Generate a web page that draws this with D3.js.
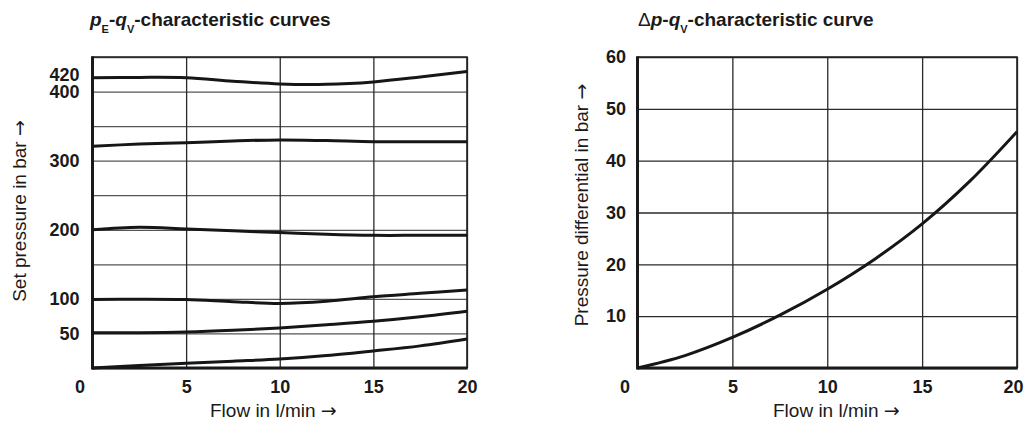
<!DOCTYPE html>
<html>
<head>
<meta charset="utf-8">
<script src="https://cdn.jsdelivr.net/npm/d3@7"></script>
<style>
  body { margin: 0; background: #fff; }
  svg { display: block; }
  text { font-family: "Liberation Sans", Arial, Helvetica, sans-serif; fill: #1a1a1a; }
  .tick-label { font-family: "Liberation Sans Narrow", "Arial Narrow", "Liberation Sans", sans-serif; font-weight: bold; font-size: 18px; }
  .axis-title { font-size: 19px; }
  .arrow { font-family: "DejaVu Sans", sans-serif; }
  .chart-title { font-size: 19px; font-weight: bold; }
</style>
</head>
<body>
<svg width="1027" height="423"></svg>
<script>
// flow in l/min, sampled along the curves
const flow = [0, 2.5, 5, 7.5, 10, 12.5, 15, 17.5, 20];

// pE-qV curves (set pressure in bar)
const pE420 = [420, 420.5, 420, 415, 411, 410.5, 414, 421, 429];
const pE320 = [321, 324, 326, 328.5, 330, 329, 327.5, 327.5, 327.5];
const pE200 = [200, 203.5, 201, 198.5, 196, 193.5, 192, 192, 192];
const pE100 = [99, 99.5, 99, 96, 93.5, 96.5, 103, 108, 113];
const pE50  = [51, 51, 52, 54.5, 58, 62.5, 67.5, 74, 82];
const pE0   = [0, 3.5, 6.7, 9.8, 13, 18, 24.6, 32, 42];

// delta p - qV curve (pressure differential in bar)
const dp = [0, 2.4, 5.9, 10.2, 15.2, 21.0, 27.8, 36, 45.6];

const xTicks = [0, 5, 10, 15, 20];
const leftGrid = [0, 50, 100, 150, 200, 250, 300, 350, 400, 450];
const leftLabels = [50, 100, 200, 300, 400, 420];
const rightGrid = [0, 10, 20, 30, 40, 50, 60];
const rightLabels = [10, 20, 30, 40, 50, 60];

const svg = d3.select('svg');
const plotTop = 57, plotBottom = 368;

function titleWithArrow(sel, label) {
    sel.append('tspan').text(label + ' ');
    sel.append('tspan').attr('class', 'arrow').text('\u2192');
}

function panel(cfg) {
    const x = d3.scaleLinear().domain([0, 20]).range([cfg.left, cfg.right]);
    const y = d3.scaleLinear().domain([0, cfg.ymax]).range([plotBottom, plotTop]);
    const g = svg.append('g');

    // horizontal grid
    g.append('g')
        .attr('transform', `translate(${cfg.left},0)`)
        .call(d3.axisLeft(y).tickValues(cfg.grid).tickSize(-(cfg.right - cfg.left)).tickFormat(''))
        .call(s => s.select('.domain').remove())
        .call(s => s.selectAll('.tick line').attr('stroke', cfg.hColor).attr('stroke-width', 1.3));

    // vertical grid
    g.append('g')
        .attr('transform', `translate(0,${plotBottom})`)
        .call(d3.axisBottom(x).tickValues(xTicks).tickSize(-(plotBottom - plotTop)).tickFormat(''))
        .call(s => s.select('.domain').remove())
        .call(s => s.selectAll('.tick line').attr('stroke', '#2a2a2a').attr('stroke-width', 1.3));

    // frame
    g.append('path')
        .attr('d', `M${cfg.left},${plotTop}H${cfg.right}V${plotBottom}`)
        .attr('fill', 'none').attr('stroke', '#222').attr('stroke-width', 1.6);
    g.append('line')
        .attr('x1', cfg.left).attr('x2', cfg.right + 0.8).attr('y1', plotBottom).attr('y2', plotBottom)
        .attr('stroke', '#1a1a1a').attr('stroke-width', 2.8);
    g.append('line')
        .attr('x1', cfg.left).attr('x2', cfg.left).attr('y1', plotTop - 0.8).attr('y2', plotBottom + 1.4)
        .attr('stroke', '#1a1a1a').attr('stroke-width', 3);

    // y tick labels
    g.append('g')
        .attr('transform', `translate(${cfg.left},0)`)
        .call(d3.axisLeft(y).tickValues(cfg.labels).tickSize(0).tickPadding(cfg.yPad))
        .call(s => s.select('.domain').remove())
        .call(s => s.selectAll('.tick text').attr('class', 'tick-label').attr('fill', '#1a1a1a').attr('font-size', null).attr('font-family', null))
        .call(s => s.selectAll('.tick text').filter(d => d === 420).attr('dy', '0.15em'));

    // x tick labels
    g.append('g')
        .attr('transform', `translate(0,${plotBottom})`)
        .call(d3.axisBottom(x).tickValues(xTicks).tickSize(0).tickPadding(12))
        .call(s => s.select('.domain').remove())
        .call(s => s.selectAll('.tick text').attr('class', 'tick-label').attr('fill', '#1a1a1a').attr('font-size', null).attr('font-family', null))
        .call(s => s.selectAll('.tick text').filter(d => d === 0).attr('x', -13))
        .call(s => s.selectAll('.tick text').filter(d => d === 20).attr('x', cfg.lastDx));

    // curves
    const line = d3.line()
        .curve(d3.curveCatmullRom.alpha(0.5))
        .x((d, i) => x(flow[i]))
        .y(d => y(d));
    g.selectAll('.curve')
        .data(cfg.series)
        .enter().append('path')
        .attr('class', 'curve')
        .attr('d', d => line(d))
        .attr('fill', 'none')
        .attr('stroke', '#161616')
        .attr('stroke-width', 3);

    // axis titles
    g.append('text')
        .attr('class', 'axis-title')
        .attr('x', cfg.xTitleX).attr('y', 417)
        .call(titleWithArrow, 'Flow in l/min');
    g.append('text')
        .attr('class', 'axis-title')
        .attr('text-anchor', 'middle')
        .attr('transform', `translate(${cfg.yTitleX},${cfg.yTitleY}) rotate(-90)`)
        .call(titleWithArrow, cfg.yTitle);

    // chart title
    const t = g.append('text')
        .attr('class', 'chart-title')
        .attr('x', cfg.titleX).attr('y', 26);
    cfg.title.forEach(part => {
        const ts = t.append('tspan').text(part.text);
        if (part.italic) ts.attr('font-style', 'italic');
        if (part.normal) ts.attr('font-weight', 'normal');
        if (part.sub) ts.attr('font-size', 11).attr('dy', 7);
        if (part.up) ts.attr('dy', -7);
    });
}

panel({
    left: 92.5, right: 467, ymax: 450,
    grid: leftGrid, labels: leftLabels, hColor: '#555', yPad: 13, lastDx: 0,
    series: [pE420, pE320, pE200, pE100, pE50, pE0],
    xTitleX: 210, yTitleX: 26, yTitleY: 211,
    yTitle: 'Set pressure in bar',
    titleX: 90,
    title: [
        { text: 'p', italic: true },
        { text: 'E', sub: true },
        { text: '-', up: true },
        { text: 'q', italic: true },
        { text: 'V', sub: true },
        { text: '-characteristic curves', up: true }
    ]
});

panel({
    left: 637.5, right: 1017, ymax: 60,
    grid: rightGrid, labels: rightLabels, hColor: '#2a2a2a', yPad: 11.5, lastDx: -4,
    series: [dp],
    xTitleX: 773, yTitleX: 588, yTitleY: 205,
    yTitle: 'Pressure differential in bar',
    titleX: 638,
    title: [
        { text: '\u0394', normal: true },
        { text: 'p', italic: true },
        { text: '-' },
        { text: 'q', italic: true },
        { text: 'V', sub: true },
        { text: '-characteristic curve', up: true }
    ]
});
</script>
</body>
</html>
